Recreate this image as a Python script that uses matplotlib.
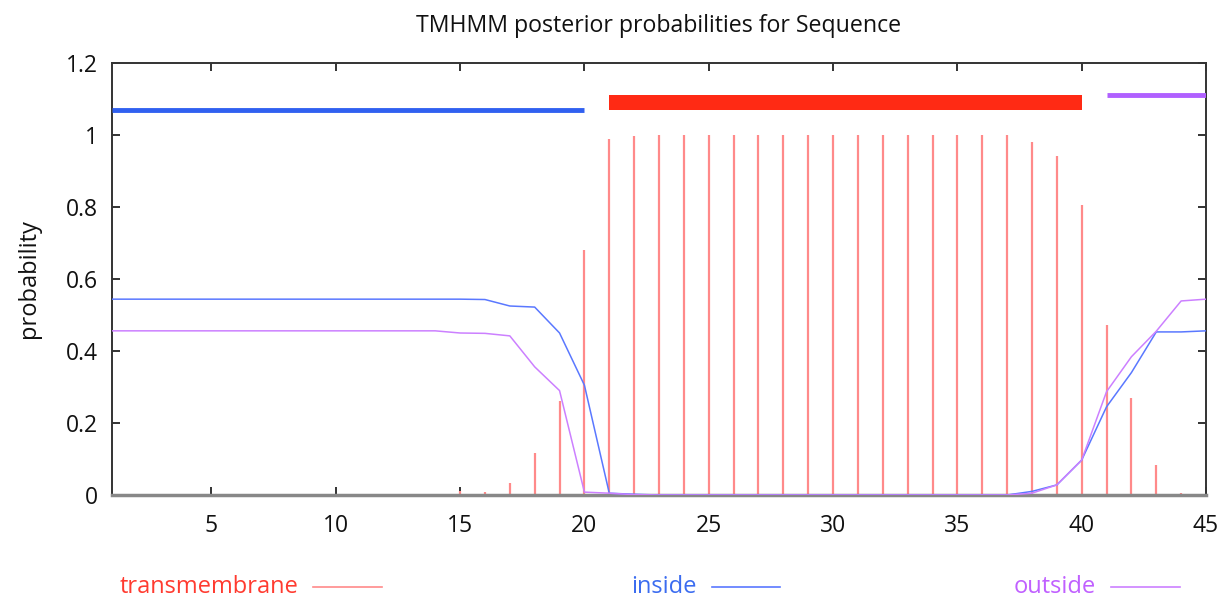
import matplotlib
matplotlib.use("Agg")
import matplotlib.pyplot as plt
from matplotlib.lines import Line2D
from matplotlib.patches import Rectangle
import numpy as np

plt.rcParams['font.family'] = ['Open Sans', 'DejaVu Sans']

positions = list(range(1, 46))
transmembrane = [0, 0, 0, 0, 0, 0, 0, 0, 0, 0, 0, 0, 0, 0.003, 0.012,
                 0.008, 0.033, 0.117, 0.26, 0.68, 0.99, 0.997, 1.0, 1.0, 1.0,
                 1.0, 1.0, 1.0, 1.0, 1.0, 1.0, 1.0, 1.0, 1.0, 1.0,
                 1.0, 1.0, 0.981, 0.943, 0.806, 0.472, 0.27, 0.083, 0.006, 0.0]
inside = [0.544, 0.544, 0.544, 0.544, 0.544, 0.544, 0.544, 0.544, 0.544, 0.544,
          0.544, 0.544, 0.544, 0.544, 0.544, 0.543, 0.525, 0.522, 0.45, 0.305,
          0.005, 0.002, 0, 0, 0, 0, 0, 0, 0, 0,
          0, 0, 0, 0, 0, 0, 0, 0.01, 0.028, 0.097,
          0.245, 0.34, 0.453, 0.453, 0.456]
outside = [0.456, 0.456, 0.456, 0.456, 0.456, 0.456, 0.456, 0.456, 0.456, 0.456,
           0.456, 0.456, 0.456, 0.456, 0.45, 0.449, 0.442, 0.356, 0.29, 0.008,
           0.005, 0.001, 0, 0, 0, 0, 0, 0, 0, 0,
           0, 0, 0, 0, 0, 0, 0, 0.005, 0.028, 0.097,
           0.287, 0.384, 0.455, 0.539, 0.544]

# predicted topology: (label, start, end)
topology = [("inside", 1, 20), ("TMhelix", 21, 40), ("outside", 41, 45)]
topo_level = {"inside": 1.07, "outside": 1.11}
tm_box = (1.07, 1.11)

title = "TMHMM posterior probabilities for Sequence"
ylabel = "probability"
xticks = [5, 10, 15, 20, 25, 30, 35, 40, 45]
yticks = [0, 0.2, 0.4, 0.6, 0.8, 1.0, 1.2]
ytick_labels = ["0", "0.2", "0.4", "0.6", "0.8", "1", "1.2"]

c_tm_bar = '#ff8a8a'
c_in = '#5a78ff'
c_out = '#cc80ff'
c_in_top = '#3060f0'
c_tm_top = '#ff2a14'
c_out_top = '#b060ff'

fig = plt.figure(figsize=(12.3, 6.01), dpi=100)
ax = fig.add_axes([112/1230, 106/601, (1206-112)/1230, (495-63)/601])

ax.vlines(positions, 0, transmembrane, colors=c_tm_bar, linewidth=1.6, zorder=2)
ax.plot(positions, inside, color=c_in, linewidth=1.1, zorder=3)
ax.plot(positions, outside, color=c_out, linewidth=1.1, zorder=3)

for label, s, e in topology:
    if label == "inside":
        ax.plot([s, e], [topo_level["inside"]] * 2, color=c_in_top, linewidth=3.5,
                solid_capstyle='butt', zorder=4)
    elif label == "outside":
        ax.plot([s, e], [topo_level["outside"]] * 2, color=c_out_top, linewidth=3.5,
                solid_capstyle='butt', zorder=4)
    else:
        ax.add_patch(Rectangle((s, tm_box[0]), e - s, tm_box[1] - tm_box[0],
                               facecolor=c_tm_top, edgecolor='none', zorder=4))

ax.set_xlim(1, 45)
ax.set_ylim(0, 1.2)
ax.set_xticks(xticks)
ax.set_yticks(yticks)
ax.set_yticklabels(ytick_labels)
ax.tick_params(direction='in', length=6, width=1.2, top=True, right=True,
               labelsize=16.5, pad=10, colors='#111111')
ax.tick_params(axis='x', pad=14)
for sp in ax.spines.values():
    sp.set_linewidth(1.4)
    sp.set_color('#333333')
ax.spines['bottom'].set_color('#888888')
ax.spines['bottom'].set_linewidth(2.5)

ax.set_title(title, fontsize=16.7, pad=22, color='#111111')
ax.set_ylabel(ylabel, fontsize=17, labelpad=18, color='#111111')

# legend below the plot
legend_items = [("transmembrane", c_tm_bar, '#ff3b30', 298, 313, 382),
                ("inside", c_in, '#3b6cf0', 697, 712, 780),
                ("outside", c_out, '#c060ff', 1096, 1111, 1180)]
ly = (601 - 587) / 601
for text, lc, tc, tx, l0, l1 in legend_items:
    fig.text(tx / 1230, ly, text, color=tc, fontsize=17, ha='right', va='center')
    fig.add_artist(Line2D([l0 / 1230, l1 / 1230], [ly, ly], color=lc, linewidth=1.2,
                          transform=fig.transFigure))

fig.savefig("out.png", dpi=100)
